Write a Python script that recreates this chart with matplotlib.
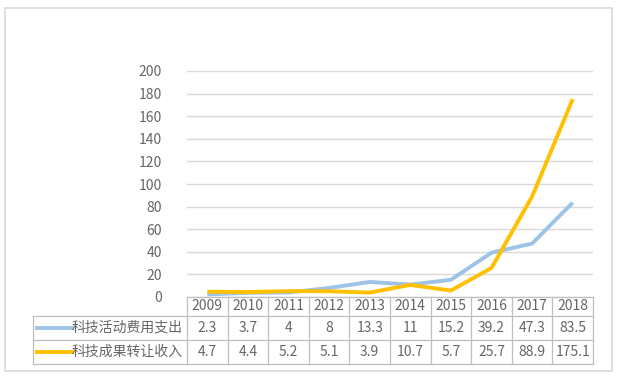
import matplotlib
matplotlib.use('Agg')
import matplotlib.pyplot as plt
from matplotlib.lines import Line2D
from matplotlib.patches import Rectangle
import matplotlib.transforms as mtransforms

plt.rcParams['font.family'] = ['Noto Sans CJK SC', 'DejaVu Sans']
plt.rcParams['font.weight'] = 'light'

years = ['2009', '2010', '2011', '2012', '2013', '2014', '2015', '2016', '2017', '2018']
expense = [2.3, 3.7, 4, 8, 13.3, 11, 15.2, 39.2, 47.3, 83.5]
income = [4.7, 4.4, 5.2, 5.1, 3.9, 10.7, 5.7, 25.7, 88.9, 175.1]
series_names = ['科技活动费用支出', '科技成果转让收入']
series_colors = ['#9DC3E6', '#FFC000']
yticks = [0, 20, 40, 60, 80, 100, 120, 140, 160, 180, 200]

W, H = 619, 380
fig = plt.figure(figsize=(W / 100, H / 100), dpi=100)

# outer frame
fig.patches.append(Rectangle((5 / W, 1 - 371 / H), 607 / W, 363 / H,
                             transform=fig.transFigure, fill=False,
                             edgecolor='#D9D9D9', linewidth=1.2))

ax = fig.add_axes([187 / W, 1 - 297 / H, 406 / W, 226 / H])
x = list(range(len(years)))
ax.plot(x, expense, color=series_colors[0], linewidth=2.8, solid_capstyle='butt', zorder=3)
ax.plot(x, income, color=series_colors[1], linewidth=2.8, solid_capstyle='butt', zorder=4)

ax.set_xlim(-0.5, len(years) - 0.5)
ax.set_ylim(0, 200)
ax.set_yticks(yticks)
ax.set_xticks([])
ax.grid(axis='y', color='#D9D9D9', linewidth=1)
ax.set_axisbelow(True)
for s in ax.spines.values():
    s.set_visible(False)
ax.tick_params(axis='y', length=0, pad=18, labelsize=10, labelcolor='#666666')

# data table under the axes
px = 1 / 226  # one pixel in axes fraction (vertical)
row_edges = [0, -19 * px, -43 * px, -67 * px]
trans = mtransforms.blended_transform_factory(ax.transData, ax.transAxes)
grid_kw = dict(color='#BFBFBF', linewidth=0.9, clip_on=False)
left = -0.5 - (187 - 33) / 40.6

# horizontal lines
ax.add_line(Line2D([-0.5, 9.5], [row_edges[0]] * 2, transform=trans, **grid_kw))
for yv in row_edges[1:]:
    ax.add_line(Line2D([left, 9.5], [yv] * 2, transform=trans, **grid_kw))
# vertical lines
for i in range(len(years) + 1):
    ax.add_line(Line2D([i - 0.5] * 2, [row_edges[0], row_edges[-1]], transform=trans, **grid_kw))
ax.add_line(Line2D([left] * 2, [row_edges[1], row_edges[-1]], transform=trans, **grid_kw))

txt_kw = dict(transform=trans, ha='center', va='center', fontsize=10, color='#666666')
for i, yr in enumerate(years):
    ax.text(i, (row_edges[0] + row_edges[1]) / 2, yr, **txt_kw)
for r, vals in enumerate([expense, income]):
    yc = (row_edges[r + 1] + row_edges[r + 2]) / 2
    for i, v in enumerate(vals):
        ax.text(i, yc, '{:g}'.format(v), **txt_kw)
    ax.add_line(Line2D([left + 4 / 40.6, left + 39 / 40.6], [yc, yc], transform=trans,
                       color=series_colors[r], linewidth=2.8, clip_on=False))
    ax.text(-0.5 - 4 / 40.6, yc, series_names[r], transform=trans, ha='right', va='center',
            fontsize=10, color='#666666')

fig.savefig('out.png', dpi=100)
